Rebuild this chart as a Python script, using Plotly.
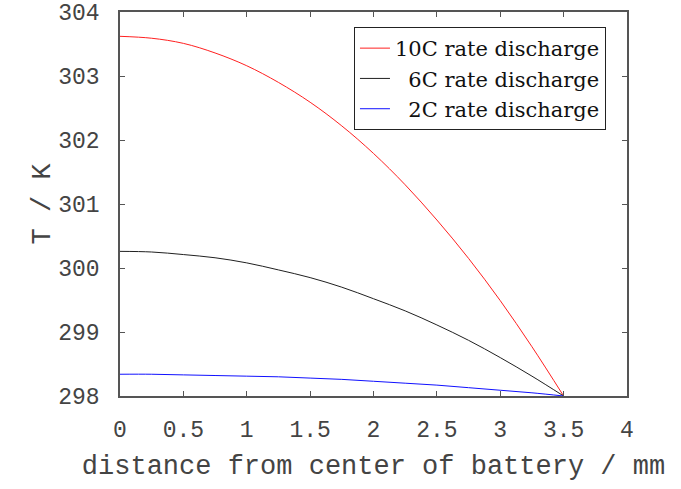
import plotly.graph_objects as go

x_mm = [0, 0.25, 0.5, 0.75, 1.0, 1.25, 1.5, 1.75, 2.0, 2.25, 2.5, 2.75, 3.0, 3.25, 3.5]
t_10c = [303.62, 303.59, 303.51, 303.36, 303.16, 302.90, 302.59, 302.22, 301.79, 301.30, 300.75, 300.15, 299.49, 298.77, 298.00]
t_6c = [300.26, 300.25, 300.21, 300.16, 300.08, 299.97, 299.85, 299.70, 299.52, 299.33, 299.11, 298.87, 298.60, 298.31, 298.00]
t_2c = [298.34, 298.34, 298.33, 298.32, 298.31, 298.30, 298.28, 298.26, 298.23, 298.20, 298.17, 298.13, 298.09, 298.05, 298.00]

names = ["10C rate discharge", "\u00a0\u00a06C rate discharge", "\u00a0\u00a02C rate discharge"]
colors = ["#ff2020", "#202020", "#1010ff"]

fig = go.Figure()
for ys, nm, c in zip([t_10c, t_6c, t_2c], names, colors):
    fig.add_trace(go.Scatter(x=x_mm, y=ys, mode="lines", name=nm,
                             line=dict(color=c, width=1, shape="spline")))

tick_font = dict(family="Liberation Mono", size=23, color="#444444")
title_font = dict(family="Liberation Mono", size=27, color="#444444")

axis_common = dict(showgrid=False, zeroline=False, showline=True, linecolor="#555555",
                   linewidth=1.5, mirror="ticks", ticks="inside", ticklen=5,
                   tickcolor="#555555", tickfont=tick_font, automargin=False)

fig.update_layout(
    width=681, height=489,
    margin=dict(l=120, r=54, t=12, b=93),
    plot_bgcolor="white", paper_bgcolor="white",
    xaxis=dict(range=[0, 4], tickvals=[0, 0.5, 1, 1.5, 2, 2.5, 3, 3.5, 4],
               ticktext=["0", "0.5", "1", "1.5", "2", "2.5", "3", "3.5", "4"],
               ticklabelstandoff=12,
               title=dict(text="distance from center of battery / mm", standoff=12,
                          font=title_font),
               **axis_common),
    yaxis=dict(range=[298, 304], dtick=1, ticklabelstandoff=14,
               title=dict(text="T / K", standoff=0, font=title_font),
               **axis_common),
    legend=dict(x=0.4615, y=0.961, xanchor="left", yanchor="top", bgcolor="white",
                bordercolor="#222222", borderwidth=1,
                font=dict(family="DejaVu Serif", size=21, color="#111111"),
                tracegroupgap=0, itemwidth=30),
    showlegend=True,
)

fig.write_html("out.html")
